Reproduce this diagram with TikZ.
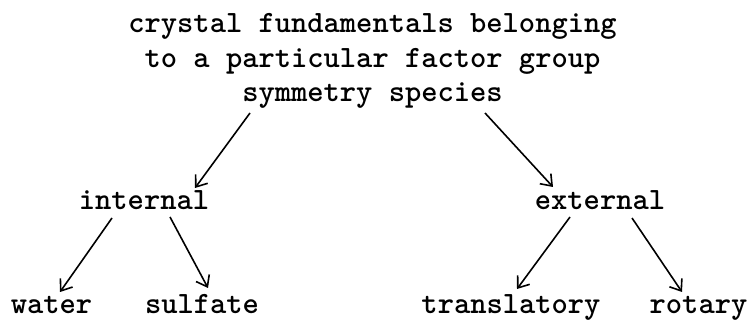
\documentclass[tikz,border=0pt]{standalone}
\usetikzlibrary{arrows.meta}
\begin{document}
\begin{tikzpicture}[x=1pt,y=1pt,
  lbl/.style={font=\ttfamily\bfseries\fontsize{31}{34.5}\selectfont, inner sep=0pt, anchor=base, align=center},
  arr/.style={line width=1.6pt, -{Straight Barb[length=10pt,width=15pt,line width=1.6pt]}}]
\useasboundingbox (0,0) rectangle (750,-320);
\node[lbl] (title) at (372.5,-102) {crystal fundamentals belonging\\to a particular factor group\\symmetry species};
\node[lbl] (internal) at (144,-210) {internal};
\node[lbl] (external) at (600,-210) {external};
\node[lbl] (water) at (51.5,-314) {water};
\node[lbl] (sulfate) at (202,-314) {sulfate};
\node[lbl] (translatory) at (511,-314) {translatory};
\node[lbl] (rotary) at (698.5,-314) {rotary};
\draw[arr] ([shift={(-122.5,-11)}]title.base) -- ([shift={(51,22)}]internal.base);
\draw[arr] ([shift={(112.5,-11)}]title.base) -- ([shift={(-47,23)}]external.base);
\draw[arr] ([shift={(-32,-8)}]internal.base) -- ([shift={(8.5,22)}]water.base);
\draw[arr] ([shift={(26,-7)}]internal.base) -- ([shift={(6,26)}]sulfate.base);
\draw[arr] ([shift={(-30,-7)}]external.base) -- ([shift={(6,25)}]translatory.base);
\draw[arr] ([shift={(32,-8)}]external.base) -- ([shift={(-16.5,22)}]rotary.base);
\end{tikzpicture}
\end{document}
